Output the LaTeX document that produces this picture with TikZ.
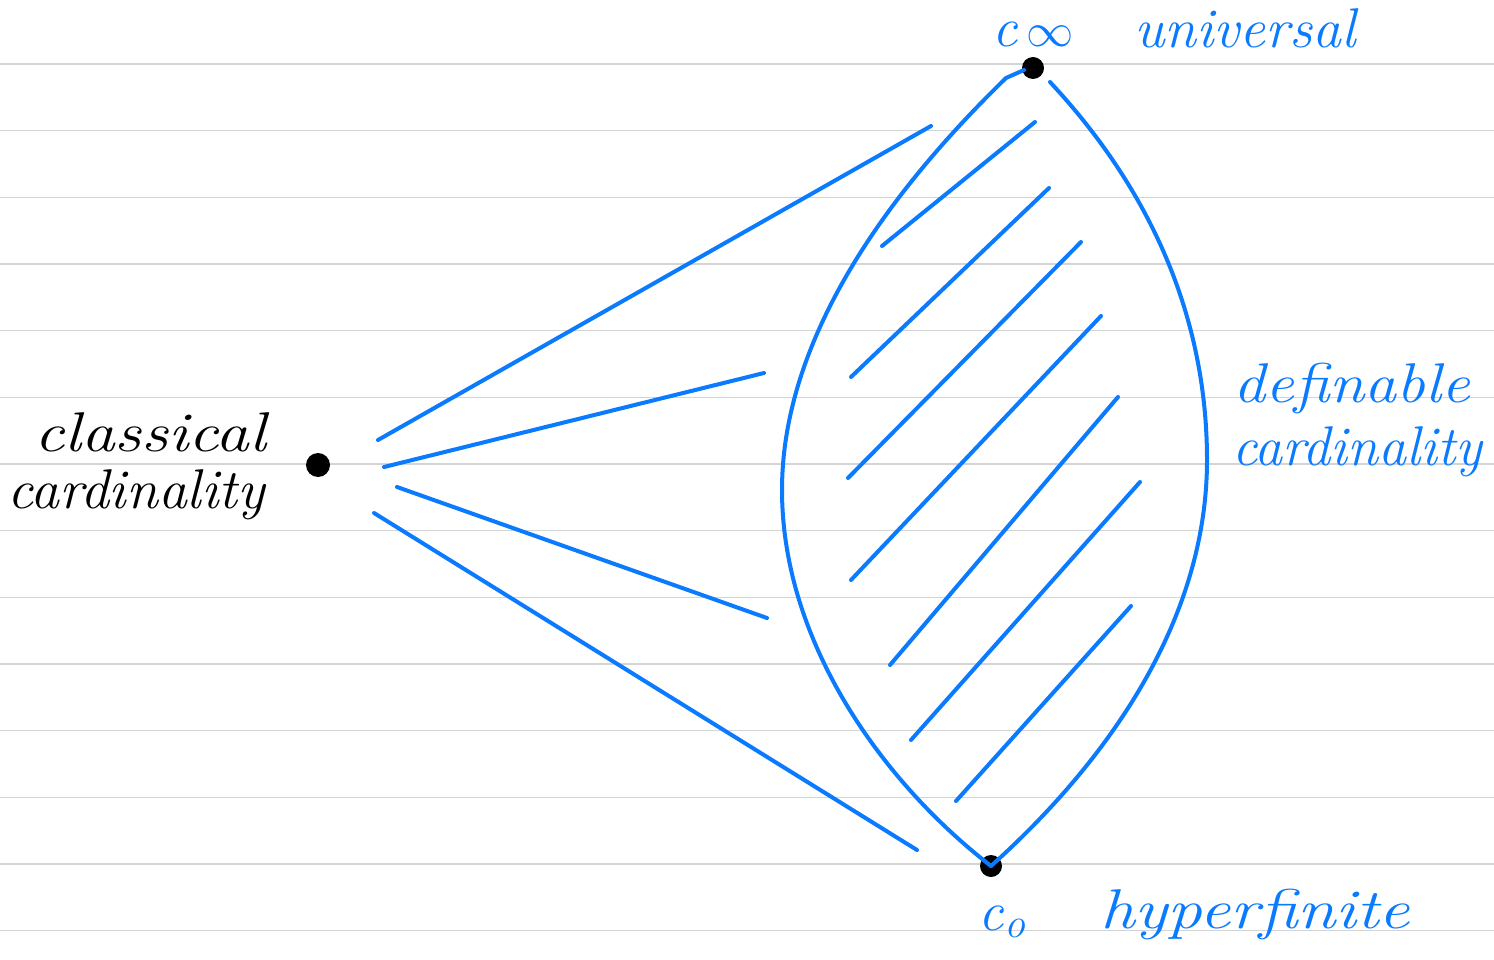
\documentclass[tikz,border=0pt]{standalone}
\usepackage{fontspec}
\definecolor{ink}{RGB}{10,122,255}
\definecolor{rule}{RGB}{212,212,212}
\begin{document}
\begin{tikzpicture}[x=1pt,y=-1pt,
  pen/.style={draw=ink,line width=4pt,line cap=round,line join=round},
  dot/.style={circle,fill=black,inner sep=0pt,minimum size=22pt},
  hand/.style={font=\fontsize{56}{60}\selectfont\itshape,inner sep=0pt,anchor=base},
  bluehand/.style={hand,text=ink},
  blackhand/.style={hand,text=black}]
\useasboundingbox (0,0) rectangle (1494,960);
\fill[white] (0,0) rectangle (1494,960);
% ruled lines
\foreach \k in {0,...,13} {
  \draw[rule,line width=1.5pt] (0,{64+66.66*\k}) -- (1494,{64+66.66*\k});
}
% dots
\node[dot] (cinf) at (1033,68) {};
\node[dot] (czero) at (991,866) {};
\node[dot,minimum width=24pt,minimum height=21pt] (cls) at (318,465) {};
% lens
\draw[pen] (1024,70) -- (1006,78) .. controls (860,220) and (782,360) .. (782,490)
  .. controls (782,640) and (880,780) .. (czero.center);
\draw[pen] (1050,82) .. controls (1160,200) and (1207,330) .. (1207,460)
  .. controls (1207,610) and (1120,750) .. (czero.center);
% fan from classical cardinality
\coordinate (f1a) at (378,440); \coordinate (f1b) at (931,126);
\coordinate (f2a) at (384,467); \coordinate (f2b) at (764,373);
\coordinate (f3a) at (397,487); \coordinate (f3b) at (767,618);
\coordinate (f4a) at (374,513); \coordinate (f4b) at (917,850);
\draw[pen] (f1a) -- (f1b);
\draw[pen] (f2a) -- (f2b);
\draw[pen] (f3a) -- (f3b);
\draw[pen] (f4a) -- (f4b);
% hatching
\draw[pen] (882,246) -- (1035,122);
\draw[pen] (851,377) -- (1049,188);
\draw[pen] (848,478) -- (1081,242);
\draw[pen] (851,580) -- (1101,316);
\draw[pen] (890,665) -- (1118,397);
\draw[pen] (911,740) -- (1140,482);
\draw[pen] (956,801) -- (1131,606);
% labels
\node[bluehand] (linf) at (1033,47) {c\,\scalebox{1.9}{$\infty$}};
\node[bluehand,xscale=1.03] (luni) at (1245,48) {universal};
\node[bluehand,xscale=1.14] (ldef) at (1352,402) {definable};
\node[bluehand,xscale=1.0] (lcard) at (1357,465) {cardinality};
\node[bluehand] (lzero) at (1002,930) {c\raisebox{-0.3ex}{\scalebox{0.75}{o}}};
\node[bluehand,xscale=1.24] (lhyp) at (1255,928) {hyperfinite};
\node[blackhand,xscale=1.2] (lcls) at (150,451) {classical};
\node[blackhand,xscale=1.03] (lclc) at (136,508) {cardinality};
\end{tikzpicture}
\end{document}
